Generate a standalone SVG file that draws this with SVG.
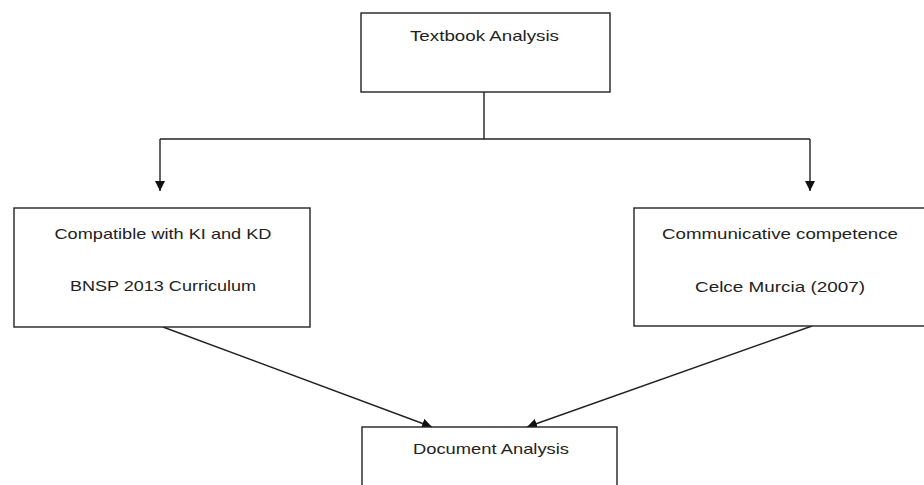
<svg xmlns="http://www.w3.org/2000/svg" width="924" height="485" viewBox="0 0 924 485">
<style>
.box{fill:#fff;stroke:#222;stroke-width:1.4}
.lbl{font-family:"Liberation Sans",Arial,sans-serif;font-size:15px;fill:#222;text-anchor:middle}
.con{fill:none;stroke:#222;stroke-width:1.4}
</style>
<defs>
<marker id="ah" viewBox="0 0 10 10" refX="10" refY="5" markerWidth="10" markerHeight="10" markerUnits="userSpaceOnUse" orient="auto">
<path d="M0,0 L10,5 L0,10 Z" fill="#111"/>
</marker>
</defs>
<rect width="924" height="485" fill="#fff"/>
<g id="connectors">
<polyline class="con" points="484,92 484,139"/>
<polyline class="con" points="160,139 810,139"/>
<polyline class="con" points="160,139 160,191" marker-end="url(#ah)"/>
<polyline class="con" points="810,139 810,191" marker-end="url(#ah)"/>
<line class="con" x1="163" y1="327" x2="432" y2="427" marker-end="url(#ah)"/>
<line class="con" x1="812" y1="326" x2="527" y2="427" marker-end="url(#ah)"/>
</g>
<g id="textbook">
<rect class="box" x="361" y="13" width="249" height="79"/>
<text class="lbl" x="484.5" y="41" textLength="149" lengthAdjust="spacingAndGlyphs">Textbook Analysis</text>
</g>
<g id="compatible">
<rect class="box" x="14" y="208" width="296" height="119"/>
<text class="lbl" x="163" y="239" textLength="217" lengthAdjust="spacingAndGlyphs">Compatible with KI and KD</text>
<text class="lbl" x="163" y="291" textLength="186" lengthAdjust="spacingAndGlyphs">BNSP 2013 Curriculum</text>
</g>
<g id="communicative">
<rect class="box" x="634" y="208" width="300" height="118"/>
<text class="lbl" x="780" y="239" textLength="236" lengthAdjust="spacingAndGlyphs">Communicative competence</text>
<text class="lbl" x="780" y="292" textLength="170" lengthAdjust="spacingAndGlyphs">Celce Murcia (2007)</text>
</g>
<g id="document">
<rect class="box" x="362" y="427" width="255" height="70"/>
<text class="lbl" x="491" y="454" textLength="156" lengthAdjust="spacingAndGlyphs">Document Analysis</text>
</g>
</svg>
